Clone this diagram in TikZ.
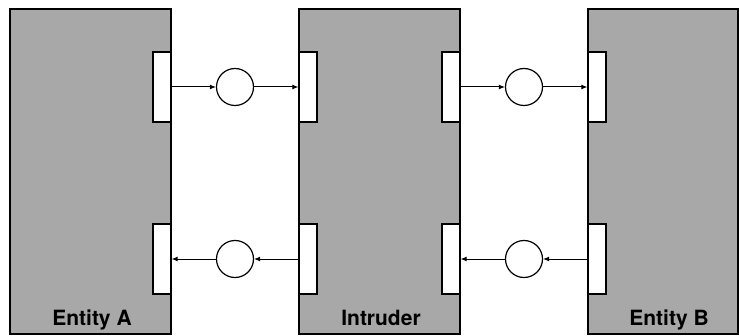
\documentclass[tikz,border=0pt]{standalone}
\usepackage{fontspec}
\setmainfont{TeX Gyre Heros}
\usetikzlibrary{arrows.meta}
\begin{document}
\begin{tikzpicture}[x=1pt,y=1pt,
  entity/.style={draw=black,line width=1.4pt,fill=gray!68,minimum width=161pt,minimum height=325pt,inner sep=0pt},
  port/.style={draw=black,line width=1.3pt,fill=white,minimum width=18pt,minimum height=70pt,inner sep=0pt},
  place/.style={circle,draw=black,line width=1.2pt,fill=white,minimum size=37pt,inner sep=0pt},
  lbl/.style={font=\bfseries\fontsize{21}{21}\selectfont,anchor=base,inner sep=0pt},
  conn/.style={line width=1pt,-{Latex[length=6pt,width=5pt]}}]
\useasboundingbox (0,0) rectangle (739,335);
% entities
\node[entity] (A) at (90.5,163.5) {};
\node[entity] (I) at (379.5,163.5) {};
\node[entity,minimum width=150pt] (B) at (663,163.5) {};
% ports
\node[port] (Aout) at (162,248) {};
\node[port] (Ain)  at (162,76) {};
\node[port] (Iin1) at (308,248) {};
\node[port] (Iout1) at (308,76) {};
\node[port] (Iout2) at (451,248) {};
\node[port] (Iin2) at (451,76) {};
\node[port] (Bin) at (597,248) {};
\node[port] (Bout) at (597,76) {};
% places
\node[place] (p1) at (235,248) {};
\node[place] (p2) at (235,76) {};
\node[place] (p3) at (524,248) {};
\node[place] (p4) at (524,76) {};
% labels
\node[lbl] (la) at (92,10) {Entity A};
\node[lbl] (li) at (381,10) {Intruder};
\node[lbl] (lb) at (669,10) {Entity B};
% connectors
\draw[conn] (Aout.east) -- (p1.west);
\draw[conn] (p1.east) -- (Iin1.west);
\draw[conn] (Iout2.east) -- (p3.west);
\draw[conn] (p3.east) -- (Bin.west);
\draw[conn] (p2.west) -- (Ain.east);
\draw[conn] (Iout1.west) -- (p2.east);
\draw[conn] (p4.west) -- (Iin2.east);
\draw[conn] (Bout.west) -- (p4.east);
\end{tikzpicture}
\end{document}
